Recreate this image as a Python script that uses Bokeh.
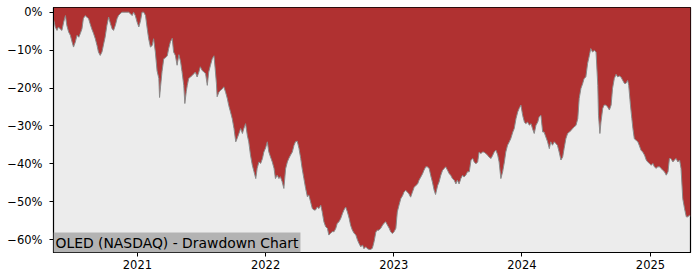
import pandas as pd
from bokeh.plotting import figure
from bokeh.models import Range1d, FixedTicker, Label, DatetimeTickFormatter, CustomJSTickFormatter, ColumnDataSource
from bokeh.embed import file_html
from bokeh.resources import INLINE

title_text = "OLED (NASDAQ) - Drawdown Chart"

dates = [
    "2020-05-07", "2020-05-09", "2020-05-12", "2020-05-17", "2020-05-21", "2020-05-26", "2020-05-31",
    "2020-06-05", "2020-06-10", "2020-06-14", "2020-06-19", "2020-06-24", "2020-06-29",
    "2020-07-03", "2020-07-08", "2020-07-13", "2020-07-18", "2020-07-22", "2020-07-27", "2020-07-31",
    "2020-08-05", "2020-08-10", "2020-08-15", "2020-08-19", "2020-08-24", "2020-08-29",
    "2020-09-03", "2020-09-08", "2020-09-12", "2020-09-17", "2020-09-22", "2020-09-27",
    "2020-10-01", "2020-10-06", "2020-10-11", "2020-10-16", "2020-10-21", "2020-10-25", "2020-10-30",
    "2020-11-04", "2020-11-08", "2020-11-13", "2020-11-18", "2020-11-27",
    "2020-12-07", "2020-12-12", "2020-12-17", "2020-12-21", "2020-12-26", "2020-12-31",
    "2021-01-05", "2021-01-10", "2021-01-14", "2021-01-19", "2021-01-24", "2021-01-29",
    "2021-02-02", "2021-02-07", "2021-02-12", "2021-02-16", "2021-02-21", "2021-02-26",
    "2021-03-03", "2021-03-05", "2021-03-08", "2021-03-12", "2021-03-17", "2021-03-22", "2021-03-27", "2021-03-31",
    "2021-04-05", "2021-04-10", "2021-04-14", "2021-04-19", "2021-04-24", "2021-04-29",
    "2021-05-04", "2021-05-08", "2021-05-13", "2021-05-16", "2021-05-20", "2021-05-23", "2021-05-27",
    "2021-06-01", "2021-06-06", "2021-06-10", "2021-06-15", "2021-06-20", "2021-06-25", "2021-06-29",
    "2021-07-04", "2021-07-09", "2021-07-14", "2021-07-19", "2021-07-23", "2021-07-28",
    "2021-08-02", "2021-08-07", "2021-08-10", "2021-08-14", "2021-08-16", "2021-08-21", "2021-08-26", "2021-08-31",
    "2021-09-04", "2021-09-09", "2021-09-14", "2021-09-18", "2021-09-23", "2021-09-28",
    "2021-10-03", "2021-10-08", "2021-10-12", "2021-10-17", "2021-10-22", "2021-10-27", "2021-10-31",
    "2021-11-05", "2021-11-10", "2021-11-14", "2021-11-19", "2021-11-24", "2021-11-29",
    "2021-12-04", "2021-12-08", "2021-12-13", "2021-12-18", "2021-12-23", "2021-12-27",
    "2022-01-01", "2022-01-06", "2022-01-10", "2022-01-15", "2022-01-20", "2022-01-25", "2022-01-29",
    "2022-02-03", "2022-02-08", "2022-02-12", "2022-02-17", "2022-02-22", "2022-02-27",
    "2022-03-04", "2022-03-08", "2022-03-13", "2022-03-18", "2022-03-23", "2022-03-27",
    "2022-04-01", "2022-04-06", "2022-04-11", "2022-04-15", "2022-04-20", "2022-04-25", "2022-04-30",
    "2022-05-04", "2022-05-09", "2022-05-14", "2022-05-19", "2022-05-23", "2022-05-28",
    "2022-06-02", "2022-06-07", "2022-06-11", "2022-06-16", "2022-06-21", "2022-06-26", "2022-06-30",
    "2022-07-05", "2022-07-10", "2022-07-15", "2022-07-20", "2022-07-24", "2022-07-29",
    "2022-08-03", "2022-08-08", "2022-08-12", "2022-08-17", "2022-08-22", "2022-08-27", "2022-08-31",
    "2022-09-05", "2022-09-10", "2022-09-15", "2022-09-20", "2022-09-24", "2022-09-29",
    "2022-10-04", "2022-10-08", "2022-10-13", "2022-10-18", "2022-10-23", "2022-10-27",
    "2022-11-01", "2022-11-06", "2022-11-11", "2022-11-15", "2022-11-20", "2022-11-25", "2022-11-30",
    "2022-12-04", "2022-12-09", "2022-12-14", "2022-12-19", "2022-12-23", "2022-12-28",
    "2023-01-02", "2023-01-07", "2023-01-11", "2023-01-16", "2023-01-21", "2023-01-26", "2023-01-30",
    "2023-02-04", "2023-02-09", "2023-02-13", "2023-02-18", "2023-02-23", "2023-02-28",
    "2023-03-05", "2023-03-10", "2023-03-14", "2023-03-19", "2023-03-24", "2023-03-28",
    "2023-04-02", "2023-04-07", "2023-04-12", "2023-04-16", "2023-04-21", "2023-04-26", "2023-04-30",
    "2023-05-06", "2023-05-10", "2023-05-15", "2023-05-20", "2023-05-24", "2023-05-29",
    "2023-06-03", "2023-06-08", "2023-06-12", "2023-06-17", "2023-06-22", "2023-06-27",
    "2023-07-01", "2023-07-06", "2023-07-11", "2023-07-16", "2023-07-20", "2023-07-25", "2023-07-30",
    "2023-08-04", "2023-08-09", "2023-08-14", "2023-08-18", "2023-08-23", "2023-08-28",
    "2023-09-01", "2023-09-06", "2023-09-11", "2023-09-15", "2023-09-20", "2023-09-25", "2023-09-29",
    "2023-10-05", "2023-10-10", "2023-10-14", "2023-10-19", "2023-10-24", "2023-10-28",
    "2023-11-02", "2023-11-07", "2023-11-12", "2023-11-16", "2023-11-21", "2023-11-26", "2023-11-30",
    "2023-12-06", "2023-12-10", "2023-12-15", "2023-12-20", "2023-12-24", "2023-12-29",
    "2024-01-03", "2024-01-08", "2024-01-12", "2024-01-17", "2024-01-22", "2024-01-27", "2024-01-31",
    "2024-02-05", "2024-02-10", "2024-02-15", "2024-02-19", "2024-02-24", "2024-02-29",
    "2024-03-04", "2024-03-09", "2024-03-14", "2024-03-19", "2024-03-23", "2024-03-28",
    "2024-04-02", "2024-04-07", "2024-04-11", "2024-04-16", "2024-04-21", "2024-04-26", "2024-04-30",
    "2024-05-05", "2024-05-10", "2024-05-15", "2024-05-20", "2024-05-24", "2024-05-29",
    "2024-06-03", "2024-06-08", "2024-06-12", "2024-06-17", "2024-06-22", "2024-06-26",
    "2024-07-01", "2024-07-06", "2024-07-11", "2024-07-15", "2024-07-20", "2024-07-25", "2024-07-30",
    "2024-08-04", "2024-08-06", "2024-08-10", "2024-08-13", "2024-08-18", "2024-08-22", "2024-08-27",
    "2024-09-01", "2024-09-06", "2024-09-11", "2024-09-15", "2024-09-20", "2024-09-25", "2024-09-30",
    "2024-10-04", "2024-10-09", "2024-10-14", "2024-10-19", "2024-10-23", "2024-10-28", "2024-10-31",
    "2024-11-05", "2024-11-09", "2024-11-12", "2024-11-16", "2024-11-21", "2024-11-26", "2024-11-30",
    "2024-12-05", "2024-12-10", "2024-12-15", "2024-12-20", "2024-12-24", "2024-12-29",
    "2025-01-03", "2025-01-08", "2025-01-12", "2025-01-17", "2025-01-22", "2025-01-27", "2025-01-31",
    "2025-02-05", "2025-02-10", "2025-02-15", "2025-02-20", "2025-02-24", "2025-02-28",
    "2025-03-06", "2025-03-10", "2025-03-15", "2025-03-20", "2025-03-25", "2025-03-29",
    "2025-04-03", "2025-04-08", "2025-04-13", "2025-04-17", "2025-04-22", "2025-04-25",
]

drawdown_pct = [
    -2.0, -2.6, -3.9, -4.8, -3.9, -4.4, -4.8,
    -2.6, -0.9, -3.5, -5.2, -6.1, -7.9,
    -9.2, -7.9, -6.1, -6.6, -5.7, -4.4, -1.7,
    -0.9, -1.3, -1.7, -3.0, -4.4, -5.6,
    -7.0, -8.8, -10.5, -11.4, -10.5, -8.3,
    -6.6, -3.5, -1.3, -3.0, -4.4, -4.8, -3.5,
    -1.7, -0.9, -0.4, 0.0, 0.0,
    0.0, -0.4, -0.9, 0.0, -0.9, -2.6,
    -3.9, -2.2, 0.0, 0.0, -0.9, -4.4,
    -7.0, -9.2, -8.8, -7.0, -10.5, -15.5,
    -17.5, -22.5, -19.5, -15.7, -12.3, -12.0, -11.5, -9.6,
    -7.8, -6.9, -10.5, -11.4, -14.0, -11.2,
    -13.1, -15.7, -19.3, -24.1, -21.0, -19.3, -17.5,
    -17.1, -16.7, -16.3, -15.8, -17.1, -15.8, -14.4,
    -15.3, -15.8, -16.2, -19.3, -15.8, -14.0,
    -12.3, -11.5, -14.5, -18.8, -22.3, -21.1, -20.6, -20.2,
    -19.7, -21.1, -22.8, -24.6, -26.3, -28.1,
    -30.7, -34.2, -33.3, -32.0, -30.7, -32.0, -30.7,
    -29.4, -32.5, -34.2, -37.7, -40.3, -42.1,
    -43.9, -41.2, -39.5, -39.9, -38.6, -36.9,
    -35.8, -34.2, -36.8, -38.2, -39.5, -41.2, -43.9,
    -43.0, -43.9, -43.4, -44.7, -46.5, -41.3,
    -39.5, -38.6, -37.7, -36.9, -35.1, -34.2,
    -34.0, -35.9, -38.6, -41.2, -43.9, -46.5, -48.7,
    -48.2, -50.0, -51.8, -52.2, -52.2, -51.4,
    -51.8, -50.9, -52.6, -55.3, -56.6, -57.0, -58.8,
    -58.3, -57.9, -57.9, -57.0, -55.7, -55.3,
    -54.4, -53.1, -52.2, -51.4, -52.7, -54.4, -56.2,
    -57.5, -58.3, -58.8, -60.2, -61.0, -61.9,
    -61.4, -62.4, -61.9, -62.4, -62.6, -62.6,
    -62.3, -60.5, -58.0, -57.5, -57.5, -57.0, -56.2,
    -55.7, -55.3, -56.2, -57.0, -57.9, -58.4,
    -57.9, -57.0, -52.7, -50.9, -49.2, -48.4, -47.5,
    -47.0, -47.5, -47.9, -48.8, -47.5, -46.2,
    -45.7, -45.3, -44.3, -43.5, -42.6, -41.7,
    -40.8, -40.8, -41.3, -43.0, -44.8, -47.0, -48.1,
    -45.7, -44.8, -43.0, -41.7, -41.3, -40.8,
    -41.7, -42.6, -43.0, -43.9, -44.3, -45.3,
    -44.3, -45.3, -43.9, -43.0, -43.5, -43.0, -42.1,
    -42.1, -39.0, -38.6, -39.5, -40.0, -39.5,
    -36.9, -37.3, -36.9, -36.9, -37.3, -37.7, -38.2,
    -38.6, -37.7, -36.9, -36.4, -37.7, -39.5,
    -43.9, -42.1, -39.5, -36.9, -35.1, -34.2, -33.4,
    -31.6, -30.7, -28.1, -26.3, -25.4, -24.5,
    -27.2, -29.0, -29.4, -29.0, -29.8, -29.4, -30.7,
    -32.0, -29.8, -29.0, -27.6, -27.2, -31.6,
    -31.6, -32.9, -34.2, -36.0, -34.2, -35.1,
    -34.2, -34.7, -35.1, -36.9, -39.0, -38.2, -36.0,
    -33.4, -32.0, -31.6, -31.2, -30.7, -30.3,
    -29.8, -28.1, -22.8, -20.1, -18.8, -17.5,
    -17.1, -13.5, -11.4, -9.6, -10.5, -10.1, -10.5,
    -19.3, -27.2, -32.0, -29.0, -25.4, -24.5, -24.5,
    -25.0, -25.8, -24.5, -20.1, -17.5, -16.4, -17.1,
    -16.8, -17.1, -18.0, -18.8, -18.8, -18.0, -19.3,
    -24.5, -28.1, -30.7, -33.4, -33.8, -34.2, -35.1,
    -36.4, -36.9, -37.7, -39.0, -39.5, -39.9,
    -40.4, -39.9, -40.8, -41.2, -40.8, -40.8, -41.2,
    -41.7, -42.1, -43.0, -42.1, -38.6, -38.6,
    -39.5, -39.0, -38.6, -39.5, -39.0, -41.2,
    -49.2, -51.8, -54.0, -54.0, -53.6, -53.8,
]

year_ticks = ["2021-01-01", "2022-01-01", "2023-01-01", "2024-01-01", "2025-01-01"]
pct_ticks = [0, -10, -20, -30, -40, -50, -60]

dt = pd.to_datetime(dates)
Y_MIN, Y_MAX = -63.4, 1.24

p = figure(width=700, height=280, x_axis_type="datetime", output_backend="svg",
           toolbar_location=None, min_border_left=53, min_border_right=10,
           min_border_top=7, min_border_bottom=28)
p.x_range = Range1d(start=dt[0], end=dt[-1])
p.y_range = Range1d(start=Y_MIN, end=Y_MAX)

src = ColumnDataSource(dict(x=dt, dd=drawdown_pct, top=[p.y_range.end] * len(drawdown_pct)))

p.background_fill_color = "#ececec"
p.border_fill_color = "white"
p.varea(x="x", y1="dd", y2="top", source=src, fill_color="#b03131")
p.line(x="x", y="dd", source=src, line_color="#8a8a8a", line_width=1)

p.grid.visible = False
p.outline_line_color = "black"
p.outline_line_width = 1.2

for ax in (p.xaxis[0], p.yaxis[0]):
    ax.axis_line_color = "black"
    ax.major_tick_line_color = "black"
    ax.major_tick_out = 4
    ax.major_tick_in = 0
    ax.minor_tick_line_color = None
    ax.major_label_text_font = "DejaVu Sans"
    ax.major_label_text_font_size = "11.5px"
    ax.major_label_text_color = "black"

p.xaxis[0].ticker = FixedTicker(ticks=[pd.Timestamp(t).value // 10**6 for t in year_ticks])
p.xaxis[0].formatter = DatetimeTickFormatter(years="%Y", months="%Y", days="%Y", hours="%Y")
p.xaxis[0].major_label_standoff = 3

p.yaxis[0].ticker = FixedTicker(ticks=pct_ticks)
p.yaxis[0].formatter = CustomJSTickFormatter(code="return (tick < 0 ? '\u2212' : '') + Math.abs(tick) + '%';")
p.yaxis[0].major_label_standoff = 7

lbl = Label(x=dt[0], y=p.y_range.start, text=title_text, text_font="DejaVu Sans",
            text_font_size="13.9px", text_color="black", text_align="left",
            text_baseline="bottom", background_fill_color="#b3b3b3", padding=2)
p.add_layout(lbl)

open("out.html", "w").write(file_html(p, INLINE))
